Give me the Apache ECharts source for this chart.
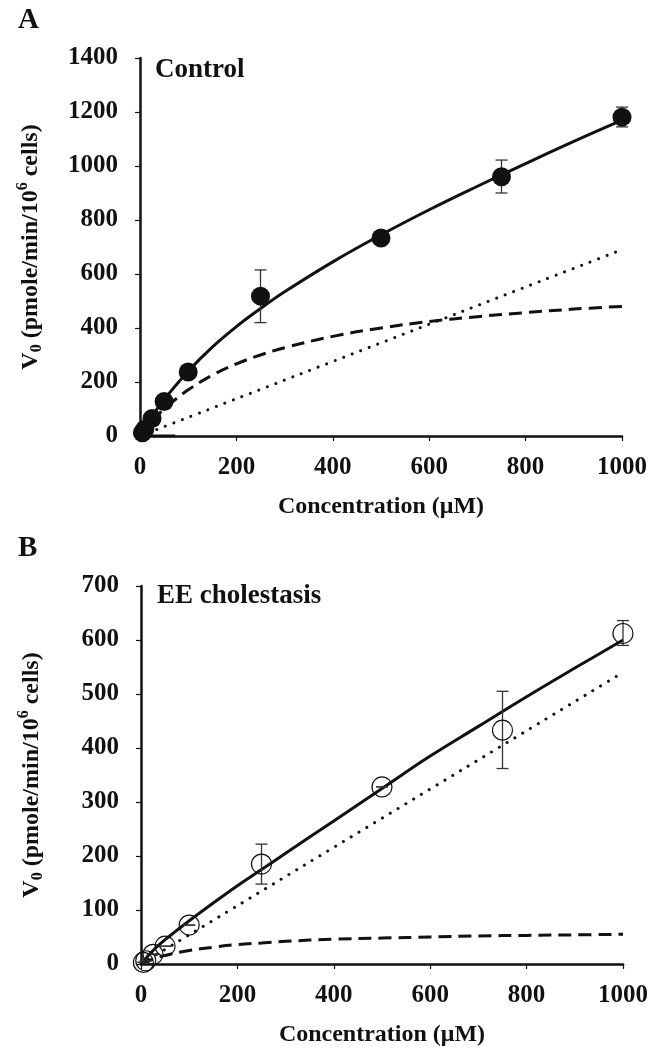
<!DOCTYPE html>
<html><head><meta charset="utf-8">
<script src="https://cdn.jsdelivr.net/npm/echarts@6/dist/echarts.min.js"></script>
<style>html,body{margin:0;padding:0;background:#fff}#c{width:655px;height:1052px}</style>
</head><body><div id="c"></div>
<script>
// Measured concentrations (µM)
const conc = [5, 10, 25, 50, 100, 250, 500, 750, 1000];
// Panel A: Control
const ctrlV0 = [12, 25, 65, 128, 237, 518, 733, 960, 1181];
const ctrlLo = [12, 25, 65, 128, 237, 420, 733, 900, 1145];
const ctrlHi = [12, 25, 65, 128, 237, 615, 733, 1022, 1218];
// Panel B: EE cholestasis
const eeV0 = [3, 6, 18, 33, 72, 185, 328, 433, 612];
const eeLo = [3, 6, 18, 33, 72, 148, 328, 362, 590];
const eeHi = [3, 6, 18, 33, 72, 222, 328, 505, 636];
// Fitted curves
const curveX = [0, 25, 50, 100, 150, 200, 250, 300, 400, 500, 600, 700, 800, 900, 1000];
const ctrlTotal = [0, 72, 135, 240, 329, 405, 472, 534, 645, 745, 838, 925, 1009, 1091, 1170];
const ctrlSat = [0, 55, 100, 171, 225, 267, 300, 327, 369, 400, 424, 442, 457, 470, 480];
const ctrlLinX = [0, 1000];
const ctrlLin = [0, 690];
const ctrlBaseX = [0, 73];
const ctrlBase = [0, 0];
const eeTotal = [0, 25, 45, 80, 113, 145, 175, 205, 265, 325, 385, 440, 495, 548, 600];
const eeSat = [0, 9, 16, 25, 31, 36, 39, 42, 46, 48, 50, 52, 53, 54, 55];
const eeLinX = [0, 1000];
const eeLin = [0, 540];
// Axis ticks
const xTicks = [0, 200, 400, 600, 800, 1000];
const yTicksA = [0, 200, 400, 600, 800, 1000, 1200, 1400];
const yTicksB = [0, 100, 200, 300, 400, 500, 600, 700];

const FONT = '"Liberation Serif", "Times New Roman", serif';
const zip = (xs, ys) => xs.map((x, i) => [x, ys[i]]);

const chart = echarts.init(document.getElementById('c'), null, {renderer: 'canvas'});

function xAxis(gi) {
  return {
    type: 'value', gridIndex: gi, min: xTicks[0], max: xTicks[xTicks.length - 1], interval: xTicks[1] - xTicks[0],
    splitLine: {show: false},
    axisLine: {show: true, onZero: false, lineStyle: {color: '#111', width: 2.5}},
    axisTick: {show: true, length: 5, lineStyle: {color: '#111', width: 1.2}},
    axisLabel: {margin: 19, color: '#111', fontFamily: FONT, fontWeight: 'bold', fontSize: 25, formatter: v => String(v)},
    name: 'Concentration (μM)', nameLocation: 'middle', nameGap: 59,
    nameTextStyle: {color: '#111', fontFamily: FONT, fontWeight: 'bold', fontSize: 24}
  };
}
function yAxis(gi, ticks) {
  return {
    type: 'value', gridIndex: gi, min: ticks[0], max: ticks[ticks.length - 1], interval: ticks[1] - ticks[0],
    splitLine: {show: false},
    axisLine: {show: true, onZero: false, lineStyle: {color: '#111', width: 2.5}},
    axisTick: {show: true, length: 5, lineStyle: {color: '#111', width: 1.2}},
    axisLabel: {margin: 22, color: '#111', fontFamily: FONT, fontWeight: 'bold', fontSize: 25, formatter: v => String(v)},
    name: '{m|V}{sub|0}{m| (pmole/min/10}{sup|6}{m| cells)}', nameLocation: 'middle', nameGap: 86,
    nameTextStyle: {
      color: '#111', fontFamily: FONT, fontWeight: 'bold', fontSize: 24,
      rich: {
        m: {color: '#111', fontFamily: FONT, fontWeight: 'bold', fontSize: 24, height: 32, verticalAlign: 'middle'},
        sub: {color: '#111', fontFamily: FONT, fontWeight: 'bold', fontSize: 16, height: 32, padding: [13, 0, 0, 0], verticalAlign: 'middle'},
        sup: {color: '#111', fontFamily: FONT, fontWeight: 'bold', fontSize: 16, height: 32, padding: [0, 0, 15, 0], verticalAlign: 'middle'}
      }
    }
  };
}

function errRender(params, api) {
  const x = api.value(0), lo = api.value(1), hi = api.value(2);
  const p1 = api.coord([x, lo]), p2 = api.coord([x, hi]);
  const w = 6;
  const st = {stroke: '#333', lineWidth: 1.3};
  return {type: 'group', children: [
    {type: 'line', shape: {x1: p1[0], y1: p1[1], x2: p2[0], y2: p2[1]}, style: st},
    {type: 'line', shape: {x1: p1[0] - w, y1: p1[1], x2: p1[0] + w, y2: p1[1]}, style: st},
    {type: 'line', shape: {x1: p2[0] - w, y1: p2[1], x2: p2[0] + w, y2: p2[1]}, style: st}
  ]};
}

function line(gi, data, type, width, z) {
  return {
    type: 'line', xAxisIndex: gi, yAxisIndex: gi, data: data, smooth: 0.4, showSymbol: false, symbol: 'none',
    lineStyle: Object.assign({color: '#111', width: width}, type), z: z, silent: true, animation: false
  };
}

const option = {
  animation: false,
  grid: [
    {left: 140, right: 33, top: 58, height: 378},
    {left: 141, right: 32, top: 586, height: 378}
  ],
  xAxis: [xAxis(0), xAxis(1)],
  yAxis: [yAxis(0, yTicksA), yAxis(1, yTicksB)],
  graphic: [
    {type: 'text', left: 18, top: 6, style: {text: 'A', font: 'bold 29px ' + FONT, fill: '#111'}},
    {type: 'text', left: 18, top: 534, style: {text: 'B', font: 'bold 29px ' + FONT, fill: '#111'}},
    {type: 'text', left: 155, top: 57, style: {text: 'Control', font: 'bold 27px ' + FONT, fill: '#111'}},
    {type: 'text', left: 157, top: 583, style: {text: 'EE cholestasis', font: 'bold 27px ' + FONT, fill: '#111'}}
  ],
  series: [
    // Panel A
    line(0, zip(curveX, ctrlSat), {type: [13, 7]}, 3, 2),
    line(0, zip(ctrlLinX, ctrlLin), {type: [0.1, 9], cap: 'round'}, 3, 2),
    line(0, zip(ctrlBaseX, ctrlBase), {}, 3, 2),
    line(0, zip(curveX, ctrlTotal), {}, 3, 3),
    {type: 'custom', xAxisIndex: 0, yAxisIndex: 0, renderItem: errRender, data: conc.map((c, i) => [c, ctrlLo[i], ctrlHi[i]]), z: 4, silent: true},
    {type: 'scatter', xAxisIndex: 0, yAxisIndex: 0, data: zip(conc, ctrlV0), symbol: 'circle', symbolSize: 19,
      itemStyle: {color: '#111', opacity: 1}, z: 5, silent: true},
    // Panel B
    line(1, zip(curveX, eeSat), {type: [13, 7]}, 3, 2),
    line(1, zip(eeLinX, eeLin), {type: [0.1, 9], cap: 'round'}, 3, 2),
    line(1, zip(curveX, eeTotal), {}, 3, 3),
    {type: 'custom', xAxisIndex: 1, yAxisIndex: 1, renderItem: errRender, data: conc.map((c, i) => [c, eeLo[i], eeHi[i]]), z: 4, silent: true},
    {type: 'scatter', xAxisIndex: 1, yAxisIndex: 1, data: zip(conc, eeV0), symbol: 'circle', symbolSize: 20,
      itemStyle: {color: 'rgba(255,255,255,0)', borderColor: '#111', borderWidth: 1.2, opacity: 1}, z: 5, silent: true}
  ]
};
chart.setOption(option);
</script>
</body></html>
